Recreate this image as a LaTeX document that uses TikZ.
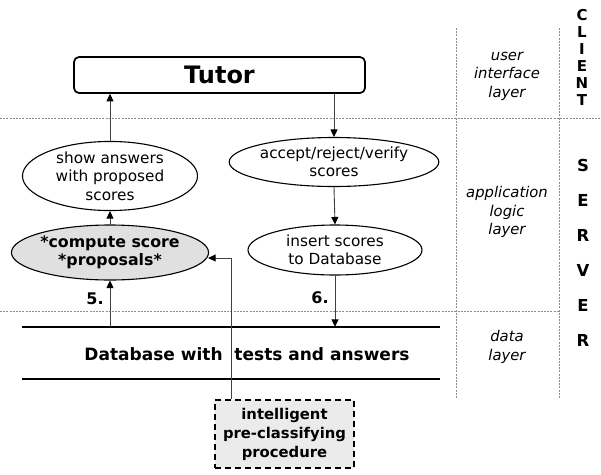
\documentclass[tikz,border=0pt]{standalone}
\usepackage{fontspec}
\setmainfont{DejaVu Sans}
\usetikzlibrary{shapes.geometric,arrows.meta}

\tikzset{
  grid/.style={draw=black!45, line width=0.6pt, dash pattern=on 2pt off 1.2pt},
  proc/.style={ellipse, draw, line width=1.1pt, inner sep=0pt, align=center,
               font=\fontsize{15.3}{18.5}\selectfont},
  conn/.style={draw=black!75, line width=0.9pt},
  arr/.style={conn, -{Triangle[length=7.5pt,width=7pt,color=black]}},
  layer/.style={align=center, font=\fontsize{14.8}{18.5}\selectfont\itshape},
  tier/.style={font=\fontsize{16.5}{16.5}\selectfont\bfseries, inner sep=0pt},
  tierc/.style={font=\fontsize{15}{15}\selectfont\bfseries, inner sep=0pt},
  step num/.style={font=\fontsize{16}{16}\selectfont\bfseries},
}

\begin{document}
\begin{tikzpicture}[x=1pt, y=-1pt]
  \useasboundingbox[fill=white] (0,0) rectangle (601,474);

  % layer grid
  \draw[grid] (0,118) -- (601,118);
  \draw[grid] (0,311) -- (559,311);
  \draw[grid] (456,28) -- (456,398);
  \draw[grid] (559,28) -- (559,398);

  % layer names
  \node[layer] (ui)   at (507,76)  {user\\interface\\layer};
  \node[layer] (app)  at (507,212) {application\\logic\\layer};
  \node[layer] (data) at (507,347) {data\\layer};

  % tiers
  \foreach \ch [count=\i] in {C,L,I,E,N,T}
    \node[tierc] (cl\i) at (582, {15+17*(\i-1)}) {\ch};
  \foreach \ch [count=\i] in {S,E,R,V,E,R}
    \node[tier] (sv\i) at (583, {165+35*(\i-1)}) {\ch};

  % user interface
  \node[draw, line width=1.7pt, rounded corners=5pt, minimum width=291pt,
        minimum height=36pt, inner sep=0pt,
        font=\fontsize{24}{24}\selectfont\bfseries] (tutor) at (219.5,75) {Tutor};

  % application logic
  \node[proc] (show)    at (110,176) [minimum width=175pt, minimum height=66pt]
        {show answers\\with proposed\\scores};
  \node[proc, fill=black!12, font=\fontsize{15.8}{18.5}\selectfont\bfseries]
        (compute) at (110,252.5) [minimum width=175pt, minimum height=55pt]
        {*compute score\\*proposals*};
  \node[proc] (accept)  at (334,162) [minimum width=208pt, minimum height=49pt]
        {accept/reject/verify\\scores};
  \node[proc] (insert)  at (335,250) [minimum width=174pt, minimum height=50pt]
        {insert scores\\to Database};

  % data layer
  \node[minimum width=418pt, minimum height=52pt, inner sep=0pt] (db) at (231,353) {};
  \draw[line width=1.7pt] (db.north west) -- (db.north east);
  \draw[line width=1.7pt] (db.south west) -- (db.south east);
  \node[font=\fontsize{17}{17}\selectfont\bfseries] (dbtext) at (247,354)
        {Database with \ tests and answers};

  % external procedure
  \node[draw, dashed, dash pattern=on 6pt off 4pt, line width=1.6pt, fill=black!8,
        minimum width=139pt, minimum height=68pt, inner sep=0pt, align=center,
        font=\fontsize{14.8}{19}\selectfont\bfseries] (intel) at (284.5,434)
        {intelligent\\pre-classifying\\procedure};

  % flow
  \draw[arr] (show.north) -- (show.north |- tutor.south);
  \draw[arr] (accept.north |- tutor.south) -- (accept.north);
  \draw[arr] (accept.south) -- (insert.north);
  \draw[arr] (insert.south) -- (insert.south |- db.north);
  \draw[arr] (compute.north) -- (show.south);
  \draw[arr] (compute.south |- db.north) -- (compute.south);
  \coordinate (turn) at (231,258);
  \draw[arr] (intel.north -| turn) -- (turn) -- ([xshift=-1pt]turn -| compute.east);

  % step numbers
  \node[step num] (n5) at (95,299)  {5.};
  \node[step num] (n6) at (320,298) {6.};
\end{tikzpicture}
\end{document}
